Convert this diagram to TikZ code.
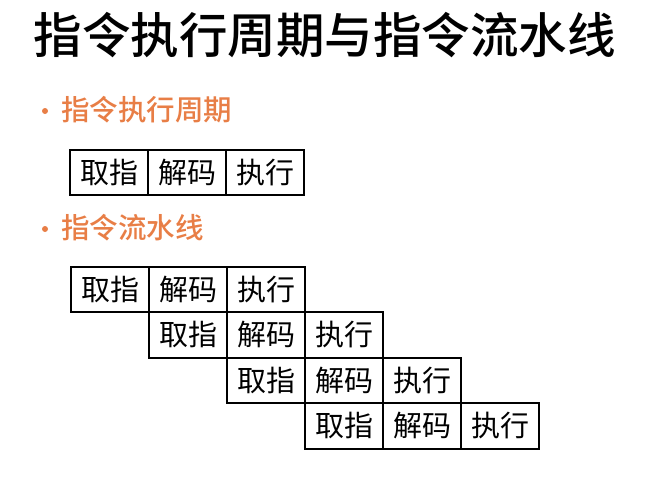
\documentclass[tikz,border=0pt]{standalone}
\usepackage{fontspec}
\newfontfamily\cjk{Noto Sans CJK SC}
\newfontfamily\cjkm{Noto Sans CJK SC Medium}
\definecolor{bulletorange}{RGB}{232,126,70}
\begin{document}
\begin{tikzpicture}[x=1pt,y=-1pt,
  cell/.style={draw=black,line width=2pt,minimum width=78pt,minimum height=45.5pt,inner sep=0pt,font=\cjk\fontsize{29}{29}\selectfont,anchor=north west},
  btext/.style={text=bulletorange,font=\cjkm\fontsize{28.5}{28.5}\selectfont,anchor=west,inner sep=0pt},
  dot/.style={circle,fill=bulletorange,inner sep=0pt,minimum size=6pt}]
\useasboundingbox (0,0) rectangle (669,491);
\node[font=\cjkm\fontsize{48.5}{48.5}\selectfont,inner sep=0pt] (title) at (324.5,35) {指令执行周期与指令流水线};
\node[dot] (d1) at (45,111) {};
\node[btext] (b1) at (61,110) {指令执行周期};
\node[dot] (d2) at (45,229) {};
\node[btext] (b2) at (61,228) {指令流水线};
% single cycle
\node[cell] (s1) at (69,148.5) {取指};
\node[cell] (s2) at (147,148.5) {解码};
\node[cell] (s3) at (225,148.5) {执行};
% pipeline
\foreach \r in {0,1,2,3}{
  \pgfmathsetmacro{\xx}{70+78*\r}
  \pgfmathsetmacro{\yy}{265.5+45.5*\r}
  \node[cell] (p\r a) at (\xx,\yy) {取指};
  \node[cell] (p\r b) at (\xx+78,\yy) {解码};
  \node[cell] (p\r c) at (\xx+156,\yy) {执行};
}
\end{tikzpicture}
\end{document}
